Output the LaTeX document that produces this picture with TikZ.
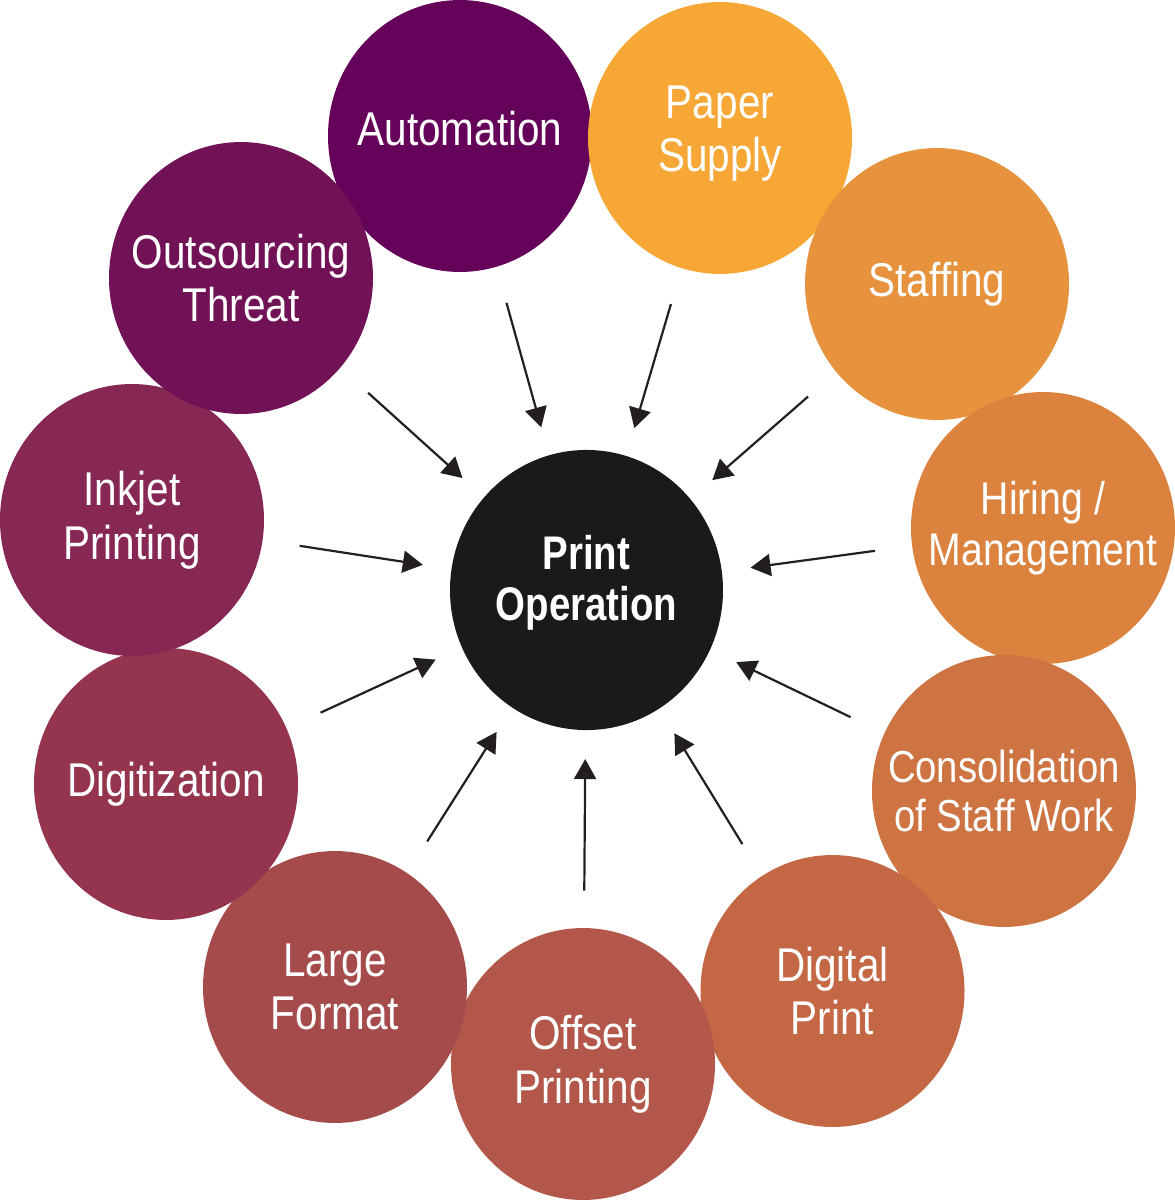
\documentclass[tikz,border=0pt]{standalone}
\usepackage{fontspec}
\usetikzlibrary{arrows.meta}
\newfontfamily\lblfont[FakeStretch=0.88]{Liberation Sans}
\newfontfamily\ctrfont[FakeStretch=0.835]{Liberation Sans}
\definecolor{cAuto}{HTML}{65035A}
\definecolor{cOuts}{HTML}{711156}
\definecolor{cInk}{HTML}{872754}
\definecolor{cDigi}{HTML}{94344F}
\definecolor{cLarge}{HTML}{A64B4C}
\definecolor{cOffs}{HTML}{B3574A}
\definecolor{cDigp}{HTML}{C36745}
\definecolor{cCons}{HTML}{CD7442}
\definecolor{cHire}{HTML}{DB833E}
\definecolor{cStaff}{HTML}{E7933D}
\definecolor{cPaper}{HTML}{F7A736}
\definecolor{cCenter}{HTML}{1A1A1A}
\definecolor{cArrow}{HTML}{231F20}
\newcommand{\lowpad}[1]{\rule[-#1]{0pt}{0pt}}
\tikzset{
  bub/.style={circle, minimum size=264pt, inner sep=0pt, outer sep=0pt,
    yscale=1.03, text=white, align=center,
    font=\lblfont\fontsize{46pt}{52pt}\selectfont},
  hub/.style={circle, minimum size=273pt, inner sep=0pt, outer sep=0pt,
    yscale=1.026, fill=cCenter, text=white, align=center,
    font=\ctrfont\bfseries\fontsize{46pt}{50pt}\selectfont},
  arr/.style={draw=cArrow, line width=2.2pt,
    -{Triangle[length=20pt,width=22pt]},
    shorten <=37.5pt, shorten >=29pt}
}
\begin{document}
\begin{tikzpicture}[x=1pt,y=-1pt]
\useasboundingbox (0,0) rectangle (1175,1200);
\node[bub, fill=cAuto]  (auto)  at (460,136)   {Automation\lowpad{14pt}};
\node[bub, fill=cPaper] (paper) at (720,138)   {Paper\\Supply\lowpad{18pt}};
\node[bub, fill=cStaff] (staff) at (937,284)   {Staffing};
\node[bub, fill=cHire, font=\lblfont\fontsize{44.5pt}{49pt}\selectfont]  (hire)  at (1043,528)  {Hiring /\\Management};
\node[bub, fill=cCons, font=\lblfont\fontsize{43.5pt}{48pt}\selectfont]  (cons)  at (1004,791)  {Consolidation\\of Staff Work};
\node[bub, fill=cDigp]  (digp)  at (832.5,991) {Digital\\Print};
\node[bub, fill=cOffs]  (offs)  at (583,1064)  {Offset\\Printing};
\node[bub, fill=cLarge] (large) at (335,987)   {Large\\Format};
\node[bub, fill=cDigi]  (digi)  at (166,784)   {Digitization};
\node[bub, fill=cInk]   (ink)   at (132,520)   {Inkjet\\Printing};
\node[bub, fill=cOuts]  (outs)  at (241,278)   {Outsourcing\\Threat};
\node[hub] (po) at (586.5,590) {Print\\Operation\lowpad{23pt}};
\foreach \n in {auto,paper,staff,hire,cons,digp,offs,large,digi,ink,outs}
  \draw[arr] (\n) -- (po);
\end{tikzpicture}
\end{document}
